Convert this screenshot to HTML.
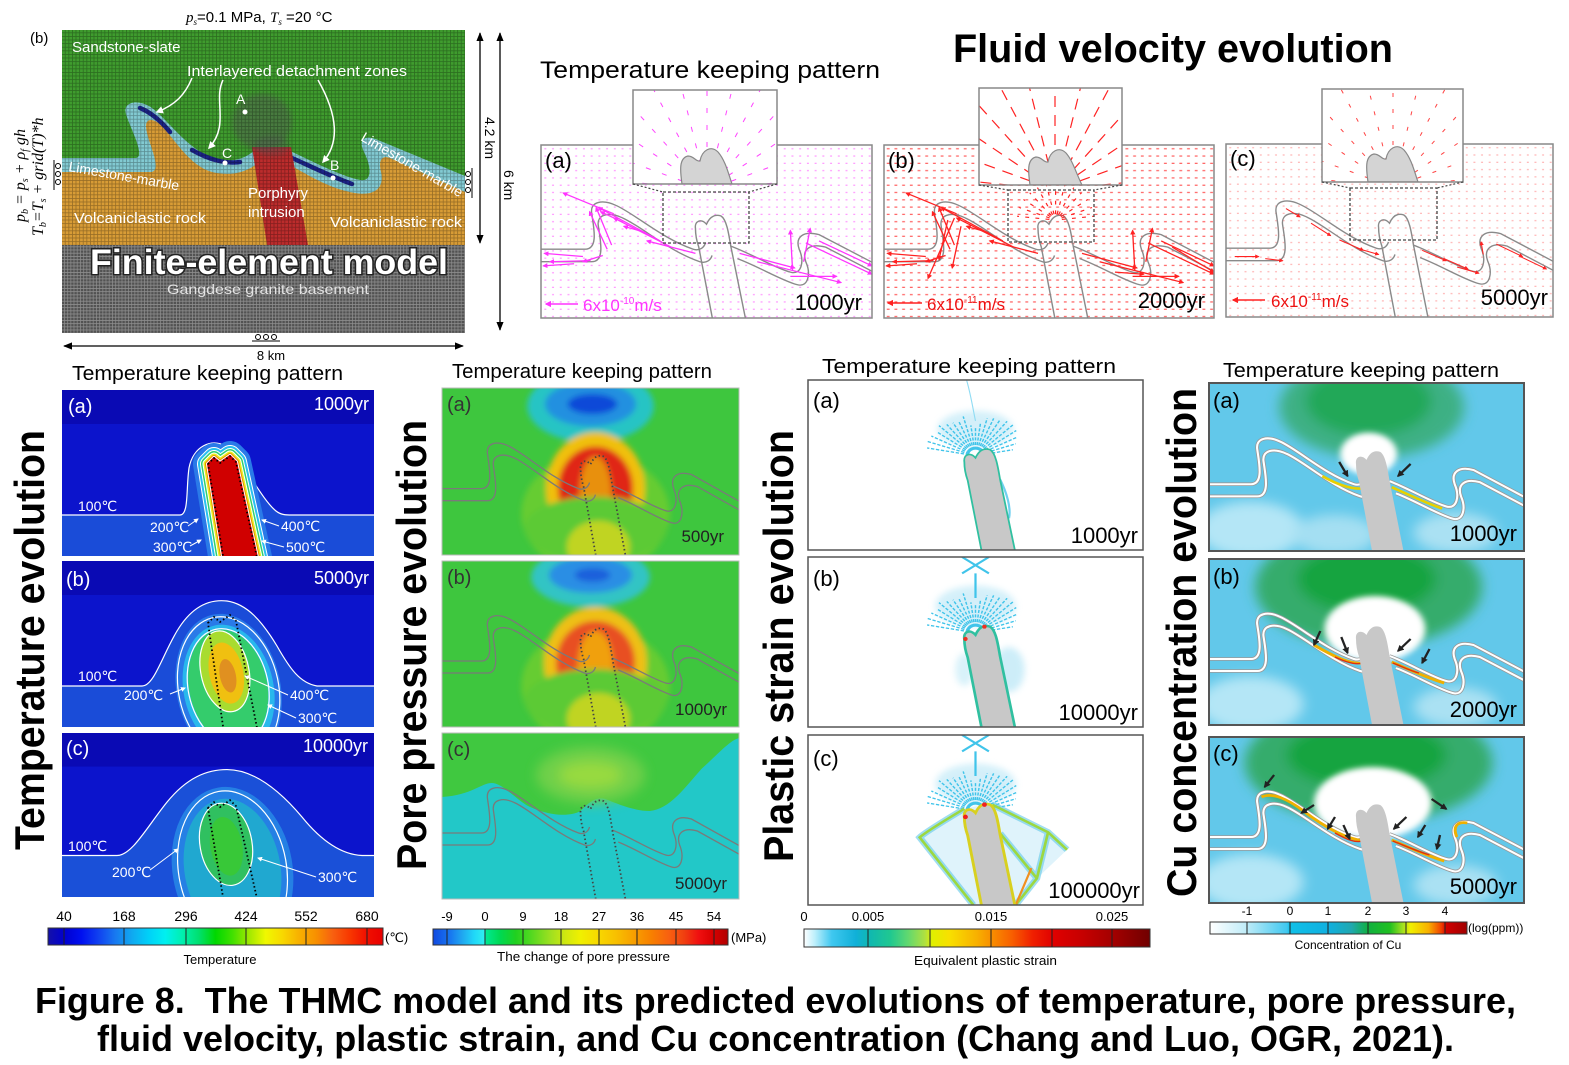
<!DOCTYPE html>
<html><head><meta charset="utf-8"><style>html,body{margin:0;padding:0;background:#fff}svg{display:block}</style></head><body>
<svg xmlns="http://www.w3.org/2000/svg" width="1569" height="1065" viewBox="0 0 1569 1065" font-family="'Liberation Sans','DejaVu Sans',sans-serif">
<defs>
 <marker id="am" viewBox="0 0 10 10" refX="8" refY="5" markerWidth="4" markerHeight="4" orient="auto"><path d="M0,0L10,5L0,10Z" fill="#ff33ff"/></marker>
 <marker id="ar" viewBox="0 0 10 10" refX="8" refY="5" markerWidth="4" markerHeight="4" orient="auto"><path d="M0,0L10,5L0,10Z" fill="#ff2222"/></marker>
 <marker id="ak" viewBox="0 0 10 10" refX="8" refY="5" markerWidth="3" markerHeight="3" orient="auto"><path d="M0,0L10,5L0,10Z" fill="#222"/></marker>
 <marker id="aw" viewBox="0 0 10 10" refX="8" refY="5" markerWidth="5" markerHeight="5" orient="auto"><path d="M0,0L10,5L0,10Z" fill="#fff"/></marker>
 <marker id="ad" viewBox="0 0 10 10" refX="9" refY="5" markerWidth="7" markerHeight="7" orient="auto-start-reverse"><path d="M0,1L10,5L0,9Z" fill="#000"/></marker>
 <pattern id="dM" width="7" height="7" patternUnits="userSpaceOnUse"><rect x="3" y="3" width="1.8" height="1.2" fill="#ff66ff" opacity=".65"/></pattern>
 <pattern id="dR" width="7" height="7" patternUnits="userSpaceOnUse"><rect x="2.5" y="3" width="2.6" height="1.2" fill="#ff3030" opacity=".75"/></pattern>
 <pattern id="dR2" width="7" height="7" patternUnits="userSpaceOnUse"><rect x="3" y="3" width="1.8" height="1.1" fill="#ff5050" opacity=".45"/></pattern>
 <pattern id="mk" width="3.6" height="3.6" patternUnits="userSpaceOnUse"><path d="M0,.4H3.6M.4,0V3.6" stroke="#000" stroke-opacity=".3" stroke-width=".8" fill="none"/></pattern>
 <pattern id="mw" width="3.2" height="3.2" patternUnits="userSpaceOnUse"><path d="M0,.4H3.2M.4,0V3.2" stroke="#fff" stroke-opacity=".35" stroke-width=".7" fill="none"/></pattern>
 <filter id="b3" x="-50%" y="-50%" width="200%" height="200%"><feGaussianBlur stdDeviation="3"/></filter>
 <filter id="b6" x="-50%" y="-50%" width="200%" height="200%"><feGaussianBlur stdDeviation="6"/></filter>
 <path id="U" d="M-10,100 L40,100 C52,100 48,80 46,66 C44,54 56,52 68,58 C85,66 110,90 138,100 C144,102 148,98 149,94 M172,97 C190,104 212,118 226,122 C236,125 239,112 234,100 C230,88 238,82 252,86 L310,118"/>
 <path id="I" d="M140,80 C139,73 145,70 150,76 C153,69 157,66 163,68 C168,71 170,84 172,97 L186,170 L156,170 L143,98 C141,92 140,86 140,80 Z"/>
 <path id="IO" d="M156,170 L143,98 C141,92 140,86 140,80 C139,73 145,70 150,76 C153,69 157,66 163,68 C168,71 170,84 172,97 L186,170"/>
 <path id="Ca" d="M146,74 L152,68 L158,73 L168,66 L174,72 L196,172 L162,172 Z"/>
 <g id="rad">
  <line y1="-26" y2="-160" transform="rotate(-84)"/><line y1="-26" y2="-160" transform="rotate(-70)"/><line y1="-26" y2="-160" transform="rotate(-56)"/><line y1="-26" y2="-160" transform="rotate(-42)"/><line y1="-26" y2="-160" transform="rotate(-28)"/><line y1="-26" y2="-160" transform="rotate(-14)"/><line y1="-26" y2="-160"/><line y1="-26" y2="-160" transform="rotate(14)"/><line y1="-26" y2="-160" transform="rotate(28)"/><line y1="-26" y2="-160" transform="rotate(42)"/><line y1="-26" y2="-160" transform="rotate(56)"/><line y1="-26" y2="-160" transform="rotate(70)"/><line y1="-26" y2="-160" transform="rotate(84)"/>
 </g>
 <g id="fan">
  <line y1="-6" y2="-44" transform="rotate(-80)"/><line y1="-6" y2="-46" transform="rotate(-72)"/><line y1="-6" y2="-44" transform="rotate(-64)"/><line y1="-6" y2="-42" transform="rotate(-56)"/><line y1="-6" y2="-44" transform="rotate(-48)"/><line y1="-6" y2="-40" transform="rotate(-40)"/><line y1="-6" y2="-38" transform="rotate(-32)"/><line y1="-6" y2="-36" transform="rotate(-24)"/><line y1="-6" y2="-40" transform="rotate(-16)"/><line y1="-6" y2="-30" transform="rotate(-8)"/><line y1="-6" y2="-28"/><line y1="-6" y2="-32" transform="rotate(8)"/><line y1="-6" y2="-38" transform="rotate(16)"/><line y1="-6" y2="-40" transform="rotate(24)"/><line y1="-6" y2="-42" transform="rotate(32)"/><line y1="-6" y2="-44" transform="rotate(40)"/><line y1="-6" y2="-46" transform="rotate(48)"/><line y1="-6" y2="-44" transform="rotate(56)"/><line y1="-6" y2="-42" transform="rotate(64)"/><line y1="-6" y2="-38" transform="rotate(72)"/><line y1="-6" y2="-34" transform="rotate(80)"/>
 </g>
 <linearGradient id="gT" x1="0" x2="1" y1="0" y2="0">
  <stop offset="0" stop-color="#1410a8"/><stop offset=".05" stop-color="#0000d0"/><stop offset=".1" stop-color="#0010f0"/><stop offset=".15" stop-color="#1040f0"/><stop offset=".2" stop-color="#1878f0"/><stop offset=".25" stop-color="#10a8f0"/><stop offset=".3" stop-color="#00d0f8"/><stop offset=".35" stop-color="#00f0f0"/><stop offset=".4" stop-color="#00f0b0"/><stop offset=".45" stop-color="#00e070"/><stop offset=".5" stop-color="#00d800"/><stop offset=".55" stop-color="#40e000"/><stop offset=".6" stop-color="#a0e800"/><stop offset=".65" stop-color="#f0f800"/><stop offset=".7" stop-color="#f8d800"/><stop offset=".75" stop-color="#f8b000"/><stop offset=".8" stop-color="#f89000"/><stop offset=".85" stop-color="#f86010"/><stop offset=".9" stop-color="#f83800"/><stop offset=".95" stop-color="#f01000"/><stop offset="1" stop-color="#e80000"/>
 </linearGradient>
 <linearGradient id="gP" x1="0" x2="1" y1="0" y2="0">
  <stop offset="0" stop-color="#1048e0"/><stop offset=".06" stop-color="#1878f0"/><stop offset=".1" stop-color="#20a8f0"/><stop offset=".14" stop-color="#20d8f8"/><stop offset=".176" stop-color="#30f0f0"/><stop offset=".18" stop-color="#00e890"/><stop offset=".23" stop-color="#00d850"/><stop offset=".28" stop-color="#20d020"/><stop offset=".33" stop-color="#50d820"/><stop offset=".4" stop-color="#a0e020"/><stop offset=".45" stop-color="#d0e810"/><stop offset=".5" stop-color="#f0f000"/><stop offset=".56" stop-color="#f8d800"/><stop offset=".62" stop-color="#f8c000"/><stop offset=".68" stop-color="#f8a000"/><stop offset=".74" stop-color="#f88000"/><stop offset=".8" stop-color="#f86010"/><stop offset=".85" stop-color="#f04010"/><stop offset=".9" stop-color="#f01010"/><stop offset=".95" stop-color="#d80000"/><stop offset="1" stop-color="#b00000"/>
 </linearGradient>
 <linearGradient id="gS" x1="0" x2="1" y1="0" y2="0">
  <stop offset="0" stop-color="#ffffff"/><stop offset=".03" stop-color="#c0f0fc"/><stop offset=".08" stop-color="#40c8f0"/><stop offset=".15" stop-color="#10b0d8"/><stop offset=".19" stop-color="#10b8b0"/><stop offset=".25" stop-color="#20c890"/><stop offset=".3" stop-color="#60d870"/><stop offset=".35" stop-color="#b0e040"/><stop offset=".37" stop-color="#e0f000"/><stop offset=".42" stop-color="#f8e000"/><stop offset=".5" stop-color="#f8b000"/><stop offset=".54" stop-color="#f89000"/><stop offset=".6" stop-color="#f86000"/><stop offset=".66" stop-color="#f02000"/><stop offset=".72" stop-color="#e00000"/><stop offset=".8" stop-color="#c80000"/><stop offset=".9" stop-color="#a00000"/><stop offset="1" stop-color="#700000"/>
 </linearGradient>
 <linearGradient id="gC" x1="0" x2="1" y1="0" y2="0">
  <stop offset="0" stop-color="#ffffff"/><stop offset=".14" stop-color="#c0ecf8"/><stop offset=".3" stop-color="#40c8f0"/><stop offset=".31" stop-color="#10c0e8"/><stop offset=".46" stop-color="#10b0e0"/><stop offset=".55" stop-color="#20a8b0"/><stop offset=".615" stop-color="#10b040"/><stop offset=".7" stop-color="#20c020"/><stop offset=".75" stop-color="#a0e020"/><stop offset=".78" stop-color="#f0f000"/><stop offset=".85" stop-color="#f8b000"/><stop offset=".9" stop-color="#f04000"/><stop offset=".92" stop-color="#d00000"/><stop offset="1" stop-color="#a00000"/>
 </linearGradient>
</defs>

<!-- ============ FEM MODEL ============ -->
<text x="30" y="43" font-size="15">(b)</text>
<text x="186" y="22" font-size="15"><tspan font-family="'Liberation Serif',serif" font-style="italic">p</tspan><tspan font-size="9" dy="3" font-family="'Liberation Serif',serif" font-style="italic">s</tspan><tspan dy="-3">=0.1 MPa, </tspan><tspan font-family="'Liberation Serif',serif" font-style="italic">T</tspan><tspan font-size="9" dy="3" font-family="'Liberation Serif',serif" font-style="italic">s</tspan><tspan dy="-3"> =20 °C</tspan></text>
<text transform="translate(25,222) rotate(-90)" font-family="'Liberation Serif',serif" font-style="italic" font-size="16">p<tspan font-size="10" dy="3">b</tspan><tspan dy="-3"> = p</tspan><tspan font-size="10" dy="3">s</tspan><tspan dy="-3"> + ρ</tspan><tspan font-size="10" dy="3">f</tspan><tspan dy="-3"> gh</tspan></text>
<text transform="translate(43,236) rotate(-90)" font-family="'Liberation Serif',serif" font-style="italic" font-size="16">T<tspan font-size="10" dy="3">b</tspan><tspan dy="-3">=T</tspan><tspan font-size="10" dy="3">s</tspan><tspan dy="-3"> + grid(T)*h</tspan></text>

<svg x="62" y="30" width="403" height="303" viewBox="62 30 403 303">
 <rect x="62" y="30" width="403" height="303" fill="#3f9c2e"/>
 <path d="M62,165 L145,165 C150,150 135,120 140,112 C150,108 165,125 180,145 C195,160 230,170 256,158 L290,158 C320,172 350,188 370,185 C380,175 365,145 372,142 C390,145 430,168 465,185 L465,245 L62,245 Z" fill="#d89c36"/>
 <path d="M62,158 L135,158 C147,158 130,128 126,114 C122,102 138,98 152,108 C168,120 185,146 210,157 C228,164 244,160 255,150 L258,163 C244,174 228,176 212,172 C190,166 175,140 162,126 C154,118 146,118 146,126 C146,140 165,172 150,172 L62,172 Z" fill="#82cad2"/>
 <path d="M288,150 C310,160 340,176 360,180 C372,182 372,168 364,152 C358,140 364,134 378,140 L465,176 L465,192 L390,158 C382,155 378,160 381,172 C385,190 372,196 355,193 C330,189 308,175 290,165 Z" fill="#82cad2"/>
 <g stroke="#1c2488" stroke-width="4.5" fill="none" stroke-linecap="round">
  <path d="M140,108 C150,112 160,120 170,132"/><path d="M192,150 C210,160 225,164 240,162"/><path d="M292,158 C310,166 330,176 352,184"/>
 </g>
 <rect x="62" y="245" width="403" height="88" fill="#525252"/>
 <rect x="62" y="245" width="403" height="88" fill="url(#mw)"/>
 <path d="M252,147 L291,147 L308,245 L267,245 Z" fill="#bc2c2c"/>
 <ellipse cx="262" cy="122" rx="30" ry="28" fill="#555" opacity=".45" filter="url(#b3)"/>
 <ellipse cx="272" cy="146" rx="18" ry="10" fill="#555" opacity=".4" filter="url(#b3)"/>
 <rect x="62" y="30" width="403" height="215" fill="url(#mk)"/>
 <g fill="#fff"><circle cx="245" cy="112" r="2.5"/><circle cx="225" cy="163" r="2.5"/><circle cx="333" cy="178" r="2.5"/></g>
 <g fill="none" stroke="#fff" stroke-width="1.5" marker-end="url(#aw)">
  <path d="M192,78 C185,95 175,105 157,112"/><path d="M223,80 C213,100 230,125 209,148"/><path d="M318,80 C335,110 342,140 323,162"/>
 </g>
 <g fill="#fff" font-size="15">
  <text x="72" y="52">Sandstone-slate</text>
  <text x="187" y="76" textLength="220" lengthAdjust="spacingAndGlyphs">Interlayered detachment zones</text>
  <text x="236" y="104" font-size="14">A</text><text x="222" y="158" font-size="14">C</text><text x="330" y="170" font-size="14">B</text>
  <text transform="translate(68,171) rotate(10)" font-size="14" textLength="112" lengthAdjust="spacingAndGlyphs">Limestone-marble</text>
  <text transform="translate(360,140) rotate(30)" font-size="14" textLength="115" lengthAdjust="spacingAndGlyphs">Limestone-marble</text>
  <text x="248" y="198">Porphyry</text><text x="248" y="217">intrusion</text>
  <text x="74" y="223" textLength="132" lengthAdjust="spacingAndGlyphs">Volcaniclastic rock</text>
  <text x="330" y="227" textLength="132" lengthAdjust="spacingAndGlyphs">Volcaniclastic rock</text>
 </g>
 <text x="90" y="274" font-size="35" font-weight="bold" fill="#fff" stroke="#222" stroke-width="3" paint-order="stroke" textLength="358" lengthAdjust="spacingAndGlyphs">Finite-element model</text>
 <text x="167" y="294" font-size="14" fill="#e4e4e4" textLength="202" lengthAdjust="spacingAndGlyphs">Gangdese granite basement</text>
</svg>
<g fill="none" stroke="#000" stroke-width="1">
 <path d="M54,160V190"/><circle cx="58" cy="166" r="2.5"/><circle cx="58" cy="174" r="2.5"/><circle cx="58" cy="182" r="2.5"/>
 <path d="M472,168V198"/><circle cx="468" cy="174" r="2.5"/><circle cx="468" cy="182" r="2.5"/><circle cx="468" cy="190" r="2.5"/>
 <path d="M252,341H280"/><circle cx="258" cy="337" r="2.5"/><circle cx="266" cy="337" r="2.5"/><circle cx="274" cy="337" r="2.5"/>
</g>
<g stroke="#000" stroke-width="1.3" marker-start="url(#ad)" marker-end="url(#ad)">
 <line x1="480" y1="33" x2="480" y2="243"/><line x1="500" y1="33" x2="500" y2="330"/><line x1="64" y1="346" x2="463" y2="346"/>
</g>
<text transform="translate(485,117) rotate(90)" font-size="14">4.2 km</text>
<text transform="translate(504,170) rotate(90)" font-size="14">6 km</text>
<text x="271" y="360" font-size="13" text-anchor="middle">8 km</text>

<!-- ============ FLUID VELOCITY ============ -->
<text x="953" y="62" font-size="40" font-weight="bold" textLength="440" lengthAdjust="spacingAndGlyphs">Fluid velocity evolution</text>
<text x="540" y="78" font-size="24" textLength="340" lengthAdjust="spacingAndGlyphs">Temperature keeping pattern</text>

<!-- (a) -->
<svg x="541" y="145" width="331" height="173" viewBox="0 0 300 166" preserveAspectRatio="none">
 <rect width="300" height="166" fill="#fff"/><rect width="300" height="166" fill="url(#dM)"/>
 <g fill="none" stroke="#8a8a8a" stroke-width="1.3"><use href="#U"/><use href="#U" transform="translate(6,12)"/><use href="#IO"/></g>
 <g stroke="#ff33ff" stroke-width="1.2" fill="none" marker-end="url(#am)">
  <path d="M38,107L3,104"/><path d="M45,111L8,112"/><path d="M30,114L2,116"/><path d="M60,100L44,64"/><path d="M64,96L50,60"/><path d="M56,106L38,112"/><path d="M108,92L52,60"/><path d="M118,98L66,70"/><path d="M66,66L20,46"/><path d="M140,104L96,92"/><path d="M95,84L75,78"/><path d="M228,120L226,82"/><path d="M238,112L244,80"/><path d="M240,94L300,124"/><path d="M252,92L300,116"/><path d="M196,112L272,132"/><path d="M226,126L268,126"/><path d="M180,104L230,118"/><path d="M74,74L54,64"/>
 </g>
</svg>
<rect x="541" y="145" width="331" height="173" fill="none" stroke="#888" stroke-width="1.5"/>
<svg x="633" y="90" width="144" height="94">
 <rect width="144" height="94" fill="#fff"/>
 <use href="#rad" transform="translate(74,100)" stroke="#ff44ff" stroke-width="1" stroke-dasharray="5 12"/>
 <path d="M49,94 C47,80 46,68 55,66 C61,66 63,72 67,71 C69,60 78,55 85,62 C92,70 95,82 99,94 Z" fill="#d4d4d4" stroke="#888" stroke-width="1.2"/>
</svg>
<rect x="633" y="90" width="144" height="94" fill="none" stroke="#888" stroke-width="1.5"/>
<rect x="663" y="192" width="86" height="51" fill="none" stroke="#444" stroke-width="1.3" stroke-dasharray="3 2"/>
<path d="M633,184 L663,192 M777,184 L749,192" stroke="#444" stroke-width="1.2" stroke-dasharray="2 2"/>
<text x="545" y="168" font-size="22">(a)</text>
<text x="862" y="310" font-size="22" text-anchor="end">1000yr</text>
<line x1="578" y1="304" x2="546" y2="304" stroke="#ff33ff" stroke-width="1.6" marker-end="url(#am)"/>
<text x="583" y="311" font-size="17" fill="#ff33ff">6x10<tspan font-size="10" dy="-7">-10</tspan><tspan dy="7">m/s</tspan></text>

<!-- (b) -->
<svg x="884" y="145" width="330" height="173" viewBox="0 0 300 166" preserveAspectRatio="none">
 <rect width="300" height="166" fill="#fff"/><rect width="300" height="166" fill="url(#dR)"/>
 <g fill="none" stroke="#8a8a8a" stroke-width="1.3"><use href="#U"/><use href="#U" transform="translate(6,12)"/><use href="#IO"/></g>
 <use href="#rad" transform="translate(156,72) scale(0.22)" stroke="#ff2222" stroke-width="5" stroke-dasharray="16 26"/>
 <g stroke="#ff2222" stroke-width="1.2" fill="none" marker-end="url(#ar)">
  <path d="M38,107L3,104"/><path d="M45,111L8,112"/><path d="M30,114L2,116"/><path d="M60,100L44,64"/><path d="M64,96L50,60"/><path d="M56,106L38,112"/><path d="M108,92L52,60"/><path d="M118,98L66,70"/><path d="M66,66L20,46"/><path d="M140,104L96,92"/><path d="M95,84L75,78"/><path d="M228,120L226,82"/><path d="M238,112L244,80"/><path d="M240,94L300,124"/><path d="M252,92L300,116"/><path d="M196,112L272,132"/><path d="M226,126L268,126"/><path d="M180,104L230,118"/><path d="M58,72L50,110"/><path d="M70,78L62,118"/><path d="M64,70L40,128"/><path d="M210,122L236,124"/><path d="M262,98L300,122"/>
 </g>
</svg>
<rect x="884" y="145" width="330" height="173" fill="none" stroke="#888" stroke-width="1.5"/>
<svg x="979" y="88" width="143" height="97">
 <rect width="143" height="97" fill="#fff"/>
 <use href="#rad" transform="translate(76,102)" stroke="#ff2222" stroke-width="1.2" stroke-dasharray="11 8"/>
 <path d="M51,97 C49,83 48,71 57,69 C63,69 65,75 69,74 C71,63 80,58 87,65 C94,73 97,85 103,97 Z" fill="#d4d4d4" stroke="#888" stroke-width="1.2"/>
</svg>
<rect x="979" y="88" width="143" height="97" fill="none" stroke="#888" stroke-width="1.5"/>
<rect x="1008" y="190" width="86" height="52" fill="none" stroke="#444" stroke-width="1.3" stroke-dasharray="3 2"/>
<path d="M979,185 L1008,190 M1122,185 L1094,190" stroke="#444" stroke-width="1.2" stroke-dasharray="2 2"/>
<text x="888" y="168" font-size="22">(b)</text>
<text x="1205" y="308" font-size="22" text-anchor="end">2000yr</text>
<line x1="922" y1="303" x2="888" y2="303" stroke="#ff2222" stroke-width="1.6" marker-end="url(#ar)"/>
<text x="927" y="310" font-size="17" fill="#ee1111">6x10<tspan font-size="10" dy="-7">-11</tspan><tspan dy="7">m/s</tspan></text>

<!-- (c) -->
<svg x="1226" y="144" width="327" height="173" viewBox="0 0 300 166" preserveAspectRatio="none">
 <rect width="300" height="166" fill="#fff"/><rect width="300" height="166" fill="url(#dR2)"/>
 <g fill="none" stroke="#8a8a8a" stroke-width="1.3"><use href="#U"/><use href="#U" transform="translate(6,12)"/><use href="#IO"/></g>
 <g stroke="#ff2222" stroke-width="1" fill="none" marker-end="url(#ar)">
  <path d="M8,108L30,108"/><path d="M55,62L68,70"/><path d="M78,76L96,88"/><path d="M104,92L126,102"/><path d="M120,100L140,106"/><path d="M180,102L202,112"/><path d="M200,110L222,120"/><path d="M212,118L232,124"/><path d="M236,106L234,94"/><path d="M248,96L272,108"/><path d="M270,108L294,120"/><path d="M36,110L52,112"/>
 </g>
</svg>
<rect x="1226" y="144" width="327" height="173" fill="none" stroke="#888" stroke-width="1.5"/>
<svg x="1322" y="89" width="141" height="93">
 <rect width="141" height="93" fill="#fff"/>
 <use href="#rad" transform="translate(71,98)" stroke="#ff4444" stroke-width="1" stroke-dasharray="4 12"/>
 <path d="M46,93 C44,79 43,67 52,65 C58,65 60,71 64,70 C66,59 75,54 82,61 C89,69 92,81 96,93 Z" fill="#d4d4d4" stroke="#888" stroke-width="1.2"/>
</svg>
<rect x="1322" y="89" width="141" height="93" fill="none" stroke="#888" stroke-width="1.5"/>
<rect x="1350" y="188" width="87" height="52" fill="none" stroke="#444" stroke-width="1.3" stroke-dasharray="3 2"/>
<path d="M1322,182 L1350,188 M1463,182 L1437,188" stroke="#444" stroke-width="1.2" stroke-dasharray="2 2"/>
<text x="1230" y="166" font-size="22">(c)</text>
<text x="1548" y="305" font-size="22" text-anchor="end">5000yr</text>
<line x1="1265" y1="300" x2="1233" y2="300" stroke="#ff2222" stroke-width="1.6" marker-end="url(#ar)"/>
<text x="1271" y="307" font-size="17" fill="#ee1111">6x10<tspan font-size="10" dy="-7">-11</tspan><tspan dy="7">m/s</tspan></text>

<!-- ============ TEMPERATURE ============ -->
<text transform="translate(44,850) rotate(-90)" font-size="42" font-weight="bold" textLength="420" lengthAdjust="spacingAndGlyphs">Temperature evolution</text>
<text x="72" y="380" font-size="20" textLength="271" lengthAdjust="spacingAndGlyphs">Temperature keeping pattern</text>

<svg x="62" y="390" width="312" height="166" viewBox="0 0 312 166" preserveAspectRatio="none">
 <rect width="312" height="166" fill="#0c14cc"/><rect width="312" height="34" fill="#0a0ab4"/>
 <path d="M0,125 L118,125 C127,125 124,98 127,78 C131,56 150,48 163,56 C180,67 198,108 214,121 C219,125 224,125 230,125 L312,125 L312,166 L0,166Z" fill="#1a4cd8"/>
 <path d="M0,125 L118,125 C127,125 124,98 127,78 C131,56 150,48 163,56 C180,67 198,108 214,121 C219,125 224,125 230,125 L312,125" fill="none" stroke="#fff" stroke-width="1.2"/>
 <g stroke-linejoin="round">
  <use href="#Ca" fill="#2a7ae8" stroke="#2a7ae8" stroke-width="30"/>
  <use href="#Ca" fill="#fff" stroke="#fff" stroke-width="22"/>
  <use href="#Ca" fill="#28c0f0" stroke="#28c0f0" stroke-width="20"/>
  <use href="#Ca" fill="#fff" stroke="#fff" stroke-width="16"/>
  <use href="#Ca" fill="#30d070" stroke="#30d070" stroke-width="14"/>
  <use href="#Ca" fill="#fff" stroke="#fff" stroke-width="11"/>
  <use href="#Ca" fill="#e8f020" stroke="#e8f020" stroke-width="9"/>
  <use href="#Ca" fill="#f08800" stroke="#f08800" stroke-width="6"/>
  <use href="#Ca" fill="#fff" stroke="#fff" stroke-width="4"/>
  <use href="#Ca" fill="#d00000" stroke="#d00000" stroke-width="2"/>
  <use href="#Ca" fill="none" stroke="#000" stroke-width="1.8" stroke-dasharray="1.5 2.5"/>
 </g>
</svg>
<g fill="#fff" font-size="14">
 <text x="68" y="413" font-size="20">(a)</text><text x="369" y="410" font-size="18" text-anchor="end">1000yr</text>
 <text x="78" y="511">100℃</text><text x="150" y="532">200℃</text><text x="153" y="552">300℃</text><text x="281" y="531">400℃</text><text x="286" y="552">500℃</text>
</g>
<g stroke="#fff" stroke-width="1" marker-end="url(#aw)"><path d="M188,526L198,519"/><path d="M190,546L201,540"/><path d="M279,526L262,520"/><path d="M284,547L262,541"/></g>

<svg x="62" y="561" width="312" height="166" viewBox="0 0 312 166" preserveAspectRatio="none">
 <rect width="312" height="166" fill="#0c14cc"/><rect width="312" height="34" fill="#0a0ab4"/>
 <path d="M0,125 L80,125 C92,125 100,95 115,70 C130,45 148,38 165,40 C185,43 200,60 215,85 C228,108 238,122 255,125 L312,125 L312,166 L0,166 Z" fill="#1a4cd8"/>
 <path d="M0,125 L80,125 C92,125 100,95 115,70 C130,45 148,38 165,40 C185,43 200,60 215,85 C228,108 238,122 255,125 L312,125" fill="none" stroke="#fff" stroke-width="1.2"/>
 <g transform="rotate(-12,166,125)">
  <ellipse cx="166" cy="128" rx="52" ry="76" fill="#2a7ae8"/>
  <ellipse cx="166" cy="128" rx="50" ry="73" fill="none" stroke="#fff" stroke-width="1.2"/>
  <ellipse cx="166" cy="128" rx="45" ry="65" fill="#28b8ec"/>
  <ellipse cx="166" cy="126" rx="39" ry="58" fill="#34cc6c"/>
  <ellipse cx="166" cy="126" rx="40" ry="59" fill="none" stroke="#fff" stroke-width="1.2"/>
  <ellipse cx="166" cy="110" rx="24" ry="41" fill="#a8dc30"/>
  <ellipse cx="166" cy="110" rx="24" ry="41" fill="none" stroke="#fff" stroke-width="1.2"/>
  <ellipse cx="167" cy="112" rx="17" ry="31" fill="#f0c010"/>
  <ellipse cx="168" cy="115" rx="8" ry="17" fill="#e09020"/>
 </g>
 <path d="M146,62 L152,56 L158,61 L168,54 L174,60 L196,172 L162,172 Z" fill="none" stroke="#000" stroke-width="1.8" stroke-dasharray="1.5 2.5"/>
</svg>
<g fill="#fff" font-size="14">
 <text x="66" y="586" font-size="20">(b)</text><text x="369" y="584" font-size="18" text-anchor="end">5000yr</text>
 <text x="78" y="681">100℃</text><text x="124" y="700">200℃</text><text x="290" y="700">400℃</text><text x="298" y="723">300℃</text>
</g>
<g stroke="#fff" stroke-width="1" marker-end="url(#aw)"><path d="M170,694L185,688"/><path d="M288,695L245,676"/><path d="M296,718L268,705"/></g>

<svg x="62" y="733" width="312" height="164" viewBox="0 0 312 166" preserveAspectRatio="none">
 <rect width="312" height="166" fill="#0c14cc"/><rect width="312" height="34" fill="#0a0ab4"/>
 <path d="M0,124 L55,124 C70,124 85,95 105,70 C125,45 145,37 165,37 C190,37 215,55 240,85 C260,110 280,123 300,124 L312,124 L312,166 L0,166 Z" fill="#1a50d8"/>
 <path d="M0,124 L55,124 C70,124 85,95 105,70 C125,45 145,37 165,37 C190,37 215,55 240,85 C260,110 280,123 300,124 L312,124" fill="none" stroke="#fff" stroke-width="1.2"/>
 <g transform="rotate(-10,170,135)">
  <ellipse cx="170" cy="138" rx="60" ry="84" fill="#2580e4"/>
  <ellipse cx="170" cy="138" rx="54" ry="80" fill="none" stroke="#fff" stroke-width="1.2"/>
  <ellipse cx="170" cy="138" rx="48" ry="72" fill="#20a8d0"/>
  <ellipse cx="168" cy="112" rx="26" ry="42" fill="#30c060"/>
  <ellipse cx="168" cy="112" rx="26" ry="42" fill="none" stroke="#fff" stroke-width="1.2"/>
  <ellipse cx="168" cy="114" rx="16" ry="30" fill="#38c838"/>
 </g>
 <path d="M146,76 L152,70 L158,75 L168,68 L174,74 L196,172 L162,172 Z" fill="none" stroke="#000" stroke-width="1.8" stroke-dasharray="1.5 2.5"/>
</svg>
<g fill="#fff" font-size="14">
 <text x="66" y="755" font-size="20">(c)</text><text x="368" y="752" font-size="18" text-anchor="end">10000yr</text>
 <text x="68" y="851">100℃</text><text x="112" y="877">200℃</text><text x="318" y="882">300℃</text>
</g>
<g stroke="#fff" stroke-width="1" marker-end="url(#aw)"><path d="M150,870L178,849"/><path d="M316,877L258,858"/></g>

<rect x="48" y="928" width="335" height="17" fill="url(#gT)" stroke="#333" stroke-width="1"/>
<path d="M64,928V945M124,928V945M186,928V945M246,928V945M306,928V945M367,928V945" stroke="#222" stroke-width="1"/>
<g font-size="14" text-anchor="middle"><text x="64" y="921">40</text><text x="124" y="921">168</text><text x="186" y="921">296</text><text x="246" y="921">424</text><text x="306" y="921">552</text><text x="367" y="921">680</text></g>
<text x="385" y="942" font-size="13">(℃)</text>
<text x="220" y="964" font-size="13" text-anchor="middle">Temperature</text>

<!-- ============ PORE PRESSURE ============ -->
<text transform="translate(426,870) rotate(-90)" font-size="42" font-weight="bold" textLength="450" lengthAdjust="spacingAndGlyphs">Pore pressure evolution</text>
<text x="452" y="378" font-size="20" textLength="260" lengthAdjust="spacingAndGlyphs">Temperature keeping pattern</text>

<svg x="442" y="388" width="297" height="167" viewBox="0 0 300 166" preserveAspectRatio="none">
 <rect width="300" height="166" fill="#3ec63e"/>
 <g filter="url(#b3)">
  <ellipse cx="155" cy="125" rx="75" ry="60" fill="#66cc32"/>
  <ellipse cx="150" cy="18" rx="64" ry="36" fill="#28c4c4"/>
  <ellipse cx="150" cy="16" rx="46" ry="22" fill="#2090e0"/>
  <ellipse cx="152" cy="16" rx="25" ry="10" fill="#1048d8"/>
  <ellipse cx="155" cy="100" rx="50" ry="56" fill="#f0c010"/>
  <ellipse cx="155" cy="100" rx="38" ry="42" fill="#e02818"/>
  <ellipse cx="155" cy="106" rx="16" ry="38" fill="#e89010"/>
  <ellipse cx="155" cy="140" rx="72" ry="32" fill="#5cca36"/>
  <ellipse cx="158" cy="158" rx="32" ry="26" fill="#c0d424"/>
 </g>
 <g fill="none" stroke="#7a7a7a" stroke-width="1.3"><use href="#U"/><use href="#U" transform="translate(6,12)"/></g>
 <use href="#IO" fill="none" stroke="#444" stroke-width="1.8" stroke-dasharray="1.5 2.5"/>
</svg>
<rect x="442" y="388" width="297" height="167" fill="none" stroke="#bbb" stroke-width="1"/>
<svg x="442" y="561" width="297" height="166" viewBox="0 0 300 166" preserveAspectRatio="none">
 <rect width="300" height="166" fill="#3ec63e"/>
 <g filter="url(#b3)">
  <ellipse cx="155" cy="125" rx="75" ry="60" fill="#66cc32"/>
  <ellipse cx="150" cy="16" rx="60" ry="30" fill="#30c4c4"/>
  <ellipse cx="150" cy="14" rx="42" ry="18" fill="#2a8ee4"/>
  <ellipse cx="152" cy="14" rx="18" ry="7" fill="#1a60dc"/>
  <ellipse cx="155" cy="102" rx="52" ry="56" fill="#eec018"/>
  <ellipse cx="155" cy="102" rx="40" ry="42" fill="#e85020"/>
  <ellipse cx="155" cy="106" rx="18" ry="36" fill="#f0a010"/>
  <ellipse cx="155" cy="140" rx="72" ry="32" fill="#5cca36"/>
  <ellipse cx="158" cy="158" rx="32" ry="26" fill="#c0d424"/>
 </g>
 <g fill="none" stroke="#7a7a7a" stroke-width="1.3"><use href="#U"/><use href="#U" transform="translate(6,12)"/></g>
 <use href="#IO" fill="none" stroke="#444" stroke-width="1.8" stroke-dasharray="1.5 2.5"/>
</svg>
<rect x="442" y="561" width="297" height="166" fill="none" stroke="#bbb" stroke-width="1"/>
<svg x="442" y="733" width="297" height="166" viewBox="0 0 300 166" preserveAspectRatio="none">
 <rect width="300" height="166" fill="#22c8c8"/>
 <path d="M0,0 H300 V5 C290,8 280,20 262,36 C245,55 230,76 210,78 C195,78 180,72 165,66 C155,63 148,70 140,78 C125,86 100,80 85,72 C70,62 60,50 50,50 C40,50 30,62 0,64 Z" fill="#40c840"/>
 <g filter="url(#b6)"><ellipse cx="150" cy="42" rx="55" ry="28" fill="#70d048"/><ellipse cx="150" cy="42" rx="32" ry="13" fill="#98da40"/></g>
 <g fill="none" stroke="#7a7a7a" stroke-width="1.3"><use href="#U"/><use href="#U" transform="translate(6,12)"/></g>
 <use href="#IO" fill="none" stroke="#444" stroke-width="1.8" stroke-dasharray="1.5 2.5"/>
</svg>
<rect x="442" y="733" width="297" height="166" fill="none" stroke="#bbb" stroke-width="1"/>
<g fill="#333" font-size="20"><text x="447" y="411">(a)</text><text x="447" y="584">(b)</text><text x="447" y="756">(c)</text></g>
<g fill="#222" font-size="17" text-anchor="end"><text x="724" y="542">500yr</text><text x="727" y="715">1000yr</text><text x="727" y="889">5000yr</text></g>

<rect x="433" y="929" width="295" height="16" fill="url(#gP)" stroke="#333" stroke-width="1"/>
<path d="M447,929V945M485,929V945M523,929V945M561,929V945M599,929V945M637,929V945M676,929V945M714,929V945" stroke="#222" stroke-width="1"/>
<g font-size="13" text-anchor="middle"><text x="447" y="921">-9</text><text x="485" y="921">0</text><text x="523" y="921">9</text><text x="561" y="921">18</text><text x="599" y="921">27</text><text x="637" y="921">36</text><text x="676" y="921">45</text><text x="714" y="921">54</text></g>
<text x="731" y="942" font-size="13">(MPa)</text>
<text x="497" y="961" font-size="13" textLength="173" lengthAdjust="spacingAndGlyphs">The change of pore pressure</text>

<!-- ============ PLASTIC STRAIN ============ -->
<text transform="translate(793,862) rotate(-90)" font-size="42" font-weight="bold" textLength="432" lengthAdjust="spacingAndGlyphs">Plastic strain evolution</text>
<text x="822" y="373" font-size="20" textLength="294" lengthAdjust="spacingAndGlyphs">Temperature keeping pattern</text>

<svg x="808" y="380" width="335" height="170" viewBox="0 0 300 166" preserveAspectRatio="none">
 <rect width="300" height="166" fill="#fff"/>
 <ellipse cx="150" cy="48" rx="34" ry="18" fill="#b8e6f6" opacity=".6" filter="url(#b3)"/>
 <use href="#fan" transform="translate(150,74)" stroke="#40c4ea" stroke-width="1.3" stroke-dasharray="3 1.5"/>
 <path d="M142,0 C146,15 148,30 150,40" stroke="#90dcf4" stroke-width="1" fill="none"/>
 <path d="M172,97 C178,110 182,125 180,135" stroke="#70d0f0" stroke-width="2" fill="none"/>
 <use href="#I" fill="#c8c8c8"/>
 <use href="#IO" fill="none" stroke="#30c0a0" stroke-width="1.6"/>
</svg>
<rect x="808" y="380" width="335" height="170" fill="none" stroke="#555" stroke-width="1.5"/>
<svg x="808" y="557" width="335" height="170" viewBox="0 0 300 166" preserveAspectRatio="none">
 <rect width="300" height="166" fill="#fff"/>
 <ellipse cx="150" cy="48" rx="36" ry="20" fill="#b8e6f6" opacity=".6" filter="url(#b3)"/>
 <use href="#fan" transform="translate(150,74)" stroke="#40c4ea" stroke-width="1.3" stroke-dasharray="3 1.5"/>
 <path d="M138,0 L162,16 M162,0 L138,16 M150,16 L150,40" stroke="#40c4ea" stroke-width="2" fill="none"/>
 <ellipse cx="180" cy="110" rx="14" ry="22" fill="#b8e6f6" opacity=".7" filter="url(#b3)"/>
 <ellipse cx="140" cy="110" rx="8" ry="16" fill="#c8ecf8" opacity=".7" filter="url(#b3)"/>
 <use href="#I" fill="#c8c8c8"/>
 <use href="#IO" fill="none" stroke="#30c0a0" stroke-width="2.4"/>
 <circle cx="141" cy="80" r="2" fill="#f03020"/><circle cx="158" cy="68" r="2" fill="#f03020"/>
</svg>
<rect x="808" y="557" width="335" height="170" fill="none" stroke="#555" stroke-width="1.5"/>
<svg x="808" y="735" width="335" height="170" viewBox="0 0 300 166" preserveAspectRatio="none">
 <rect width="300" height="166" fill="#fff"/>
 <path d="M100,100 L140,72 L168,66 L215,95 L232,112 L205,140 L186,166 L148,166 Z" fill="#c4eaf8" opacity=".55"/>
 <ellipse cx="150" cy="48" rx="36" ry="20" fill="#b8e6f6" opacity=".6" filter="url(#b3)"/>
 <use href="#fan" transform="translate(150,74)" stroke="#40c4ea" stroke-width="1.3" stroke-dasharray="3 1.5"/>
 <path d="M138,0 L162,16 M162,0 L138,16 M150,16 L150,40" stroke="#40c4ea" stroke-width="2" fill="none"/>
 <g fill="none" stroke="#60c8e8" stroke-width="6" opacity=".6"><path d="M140,72 C120,85 105,95 100,100 L148,166"/><path d="M165,68 L215,95 L232,112 M215,95 L205,140 L186,166 M172,96 L205,140"/></g>
 <g fill="none" stroke="#9cd840" stroke-width="2.4"><path d="M140,72 C120,85 105,95 100,100 L148,166"/><path d="M165,68 L215,95 L232,112 M215,95 L205,140 L186,166 M172,96 L205,140"/></g>
 <path d="M200,130 L186,166" stroke="#f09020" stroke-width="2" fill="none"/>
 <use href="#I" fill="#c8c8c8"/>
 <use href="#IO" fill="none" stroke="#d8d020" stroke-width="2.6"/>
 <circle cx="141" cy="80" r="2.2" fill="#f02020"/><circle cx="158" cy="68" r="2.2" fill="#f02020"/>
</svg>
<rect x="808" y="735" width="335" height="170" fill="none" stroke="#555" stroke-width="1.5"/>
<g font-size="22"><text x="813" y="408">(a)</text><text x="813" y="586">(b)</text><text x="813" y="766">(c)</text></g>
<g font-size="22" text-anchor="end"><text x="1138" y="543">1000yr</text><text x="1138" y="720">10000yr</text><text x="1140" y="898">100000yr</text></g>

<rect x="804" y="929" width="346" height="18" fill="url(#gS)" stroke="#333" stroke-width="1"/>
<path d="M868,929V947M930,929V947M991,929V947M1052,929V947M1112,929V947" stroke="#222" stroke-width="1"/>
<g font-size="13" text-anchor="middle"><text x="804" y="921">0</text><text x="868" y="921">0.005</text><text x="991" y="921">0.015</text><text x="1112" y="921">0.025</text></g>
<text x="914" y="965" font-size="12.5" textLength="143" lengthAdjust="spacingAndGlyphs">Equivalent plastic strain</text>

<!-- ============ CU CONCENTRATION ============ -->
<text transform="translate(1196,897) rotate(-90)" font-size="42" font-weight="bold" textLength="509" lengthAdjust="spacingAndGlyphs">Cu concentration evolution</text>
<text x="1223" y="377" font-size="20" textLength="276" lengthAdjust="spacingAndGlyphs">Temperature keeping pattern</text>

<svg x="1209" y="383" width="315" height="168" viewBox="0 0 300 166" preserveAspectRatio="none">
 <rect width="300" height="166" fill="#62c8ea"/>
 <g filter="url(#b6)">
  <ellipse cx="155" cy="24" rx="88" ry="50" fill="#3cb084"/>
  <ellipse cx="152" cy="18" rx="60" ry="34" fill="#22a858"/>
  <ellipse cx="40" cy="145" rx="50" ry="28" fill="#b4e6f6"/>
  <ellipse cx="120" cy="150" rx="40" ry="20" fill="#a4dff2"/>
  <ellipse cx="235" cy="148" rx="40" ry="20" fill="#aae1f3"/>
 </g>
 <ellipse cx="152" cy="70" rx="27" ry="21" fill="#fff" filter="url(#b3)"/>
 <g fill="none"><use href="#U" stroke="#999" stroke-width="3.6"/><use href="#U" stroke="#fff" stroke-width="2"/><use href="#U" transform="translate(6,12)" stroke="#999" stroke-width="3.6"/><use href="#U" transform="translate(6,12)" stroke="#fff" stroke-width="2"/></g>
 <g fill="none" stroke="#e8d000" stroke-width="2.6"><path d="M108,92 C120,99 135,106 148,104"/><path d="M174,103 C190,110 205,118 222,124"/></g>
 <use href="#I" fill="#c8c8c8"/>
 <g stroke="#222" stroke-width="2.2" marker-end="url(#ak)"><path d="M124,78L132,92"/><path d="M192,80L180,92"/></g>
</svg>
<rect x="1209" y="383" width="315" height="168" fill="none" stroke="#555" stroke-width="2"/>
<svg x="1209" y="559" width="315" height="166" viewBox="0 0 300 166" preserveAspectRatio="none">
 <rect width="300" height="166" fill="#62c8ea"/>
 <g filter="url(#b6)">
  <ellipse cx="152" cy="28" rx="108" ry="60" fill="#34ac6c"/>
  <ellipse cx="150" cy="20" rx="66" ry="34" fill="#14a440"/>
  <ellipse cx="40" cy="145" rx="50" ry="28" fill="#b4e6f6"/>
  <ellipse cx="235" cy="148" rx="40" ry="20" fill="#aae1f3"/>
 </g>
 <ellipse cx="158" cy="70" rx="48" ry="33" fill="#fff" filter="url(#b3)"/>
 <g fill="none"><use href="#U" stroke="#999" stroke-width="3.6"/><use href="#U" stroke="#fff" stroke-width="2"/><use href="#U" transform="translate(6,12)" stroke="#999" stroke-width="3.6"/><use href="#U" transform="translate(6,12)" stroke="#fff" stroke-width="2"/></g>
 <g fill="none" stroke="#f0b000" stroke-width="2.8"><path d="M100,86 C118,97 135,106 148,104"/><path d="M174,103 C190,110 205,118 224,124"/></g>
 <g fill="none" stroke="#e03010" stroke-width="1.4"><path d="M120,98 C132,104 140,106 146,104"/><path d="M175,104 C185,108 192,112 200,114"/></g>
 <use href="#I" fill="#c8c8c8"/>
 <g stroke="#222" stroke-width="2.2" marker-end="url(#ak)"><path d="M106,72L100,86"/><path d="M126,78L132,94"/><path d="M192,80L180,92"/><path d="M210,90L203,104"/></g>
</svg>
<rect x="1209" y="559" width="315" height="166" fill="none" stroke="#555" stroke-width="2"/>
<svg x="1209" y="737" width="315" height="166" viewBox="0 0 300 166" preserveAspectRatio="none">
 <rect width="300" height="166" fill="#62c8ea"/>
 <g filter="url(#b6)">
  <ellipse cx="152" cy="26" rx="118" ry="60" fill="#34ac6c"/>
  <ellipse cx="150" cy="18" rx="76" ry="34" fill="#14a440"/>
  <ellipse cx="40" cy="145" rx="50" ry="28" fill="#b4e6f6"/>
  <ellipse cx="235" cy="148" rx="40" ry="20" fill="#aae1f3"/>
 </g>
 <ellipse cx="156" cy="66" rx="56" ry="36" fill="#fff" filter="url(#b3)"/>
 <g fill="none"><use href="#U" stroke="#999" stroke-width="3.6"/><use href="#U" stroke="#fff" stroke-width="2"/><use href="#U" transform="translate(6,12)" stroke="#999" stroke-width="3.6"/><use href="#U" transform="translate(6,12)" stroke="#fff" stroke-width="2"/></g>
 <g fill="none" stroke="#f0b000" stroke-width="2.8"><path d="M50,60 C60,55 75,62 90,74 C110,90 130,102 148,104"/><path d="M174,103 C190,110 205,118 224,124"/><path d="M236,100 C232,90 236,84 246,86"/></g>
 <g fill="none" stroke="#e03010" stroke-width="1.4"><path d="M120,96 C132,103 140,106 146,104"/><path d="M175,104 C185,108 195,113 210,118"/></g>
 <use href="#I" fill="#c8c8c8"/>
 <g stroke="#222" stroke-width="2.2" marker-end="url(#ak)"><path d="M62,38L53,50"/><path d="M100,68L88,76"/><path d="M120,80L113,92"/><path d="M128,88L134,102"/><path d="M188,80L176,92"/><path d="M206,88L199,100"/><path d="M220,98L217,112"/><path d="M212,62L226,72"/></g>
</svg>
<rect x="1209" y="737" width="315" height="166" fill="none" stroke="#555" stroke-width="2"/>
<g font-size="22"><text x="1213" y="408">(a)</text><text x="1213" y="584">(b)</text><text x="1213" y="761">(c)</text></g>
<g font-size="22" text-anchor="end"><text x="1517" y="541">1000yr</text><text x="1517" y="717">2000yr</text><text x="1517" y="894">5000yr</text></g>

<rect x="1210" y="922" width="257" height="12" fill="url(#gC)" stroke="#333" stroke-width="1"/>
<path d="M1247,922V934M1290,922V934M1328,922V934M1368,922V934M1406,922V934M1445,922V934" stroke="#222" stroke-width="1"/>
<g font-size="12" text-anchor="middle"><text x="1247" y="915">-1</text><text x="1290" y="915">0</text><text x="1328" y="915">1</text><text x="1368" y="915">2</text><text x="1406" y="915">3</text><text x="1445" y="915">4</text></g>
<text x="1468" y="932" font-size="12">(log(ppm))</text>
<text x="1348" y="949" font-size="12" text-anchor="middle">Concentration of Cu</text>

<!-- ============ CAPTION ============ -->
<text x="35" y="1013" font-size="36" font-weight="bold" textLength="1481" lengthAdjust="spacingAndGlyphs" style="white-space:pre">Figure 8.  The THMC model and its predicted evolutions of temperature, pore pressure,</text>
<text x="97" y="1051" font-size="36" font-weight="bold" textLength="1357" lengthAdjust="spacingAndGlyphs">fluid velocity, plastic strain, and Cu concentration (Chang and Luo, OGR, 2021).</text>
</svg>
</body></html>
